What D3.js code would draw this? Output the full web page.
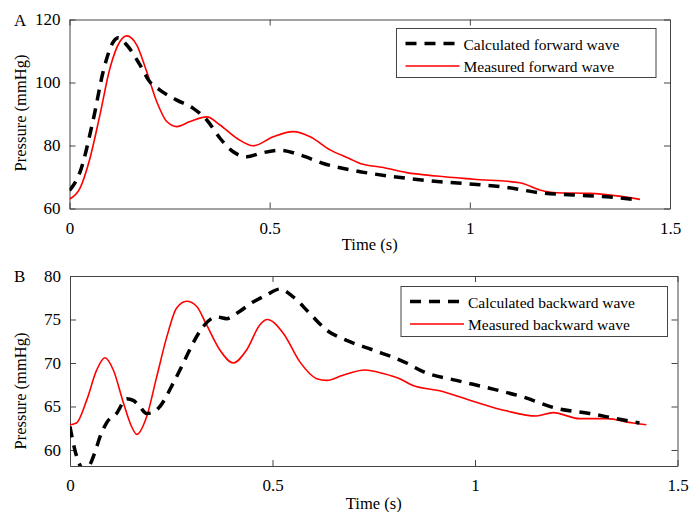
<!DOCTYPE html>
<html>
<head>
<meta charset="utf-8">
<script src="https://cdn.jsdelivr.net/npm/d3@7"></script>
<style>
  body { margin: 0; background: #fff; }
  svg text { font-family: "Liberation Serif", "Times New Roman", serif; fill: #000; }
  .axis path, .axis line { stroke: #444; stroke-width: 1; }
</style>
</head>
<body>
<svg width="689" height="512"></svg>
<script>
/* data */

// panel A - forward waves
var fwdCalcT = [0, 0.026, 0.06, 0.084, 0.11, 0.122, 0.143, 0.176, 0.2, 0.226, 0.268, 0.309, 0.343, 0.376, 0.409, 0.443, 0.476, 0.526, 0.576, 0.634, 0.7, 0.759, 0.842, 0.926, 1.009, 1.092, 1.175, 1.258, 1.342, 1.408];
var fwdCalcP = [65.7, 71.5, 88.6, 103.4, 113, 114.2, 111.9, 105.6, 100.3, 97.6, 94.4, 91.8, 88.1, 82.3, 78, 76.4, 77.5, 78.5, 77, 74.3, 72.3, 71, 69.6, 68.5, 67.7, 66.7, 65, 64.3, 63.7, 62.9];

var fwdMeasT = [0, 0.026, 0.051, 0.076, 0.101, 0.126, 0.143, 0.168, 0.193, 0.218, 0.243, 0.268, 0.301, 0.343, 0.376, 0.418, 0.459, 0.509, 0.559, 0.601, 0.651, 0.7, 0.726, 0.784, 0.842, 0.917, 1.009, 1.125, 1.175, 1.217, 1.3, 1.367, 1.425];
var fwdMeasP = [63, 66.4, 75.9, 89.7, 104.5, 113, 114.8, 111.9, 103.4, 93.9, 87.6, 86, 87.6, 89.1, 86.5, 82.3, 79.9, 82.8, 84.4, 82.8, 78.6, 75.8, 74.3, 73, 71.4, 70.3, 69.3, 68.2, 65.9, 65, 64.8, 64, 62.9];

// panel B - backward waves
var bwdCalcT = [0, 0.012, 0.024, 0.036, 0.048, 0.062, 0.074, 0.09, 0.115, 0.14, 0.156, 0.172, 0.189, 0.205, 0.222, 0.255, 0.28, 0.304, 0.329, 0.362, 0.387, 0.411, 0.452, 0.485, 0.518, 0.551, 0.592, 0.633, 0.683, 0.748, 0.831, 0.872, 0.954, 1.036, 1.118, 1.2, 1.283, 1.349, 1.406];
var bwdCalcP = [62.7, 60.0, 58.3, 57.6, 58.2, 59.8, 61.5, 63.1, 64.2, 65.9, 65.7, 65.0, 64.2, 64.3, 65.0, 67.7, 70.0, 72.3, 74.2, 75.3, 75.1, 75.7, 77.0, 77.8, 78.5, 77.6, 75.7, 73.8, 72.6, 71.5, 70.0, 69.0, 68.0, 67.1, 66.1, 64.8, 64.2, 63.6, 63.1];

var bwdMeasT = [0, 0.016, 0.041, 0.066, 0.086, 0.107, 0.132, 0.152, 0.165, 0.189, 0.214, 0.239, 0.263, 0.288, 0.313, 0.337, 0.37, 0.403, 0.436, 0.469, 0.487, 0.527, 0.568, 0.609, 0.634, 0.674, 0.728, 0.773, 0.814, 0.847, 0.913, 0.995, 1.077, 1.151, 1.193, 1.258, 1.324, 1.39, 1.423];
var bwdMeasP = [62.9, 63.1, 65.7, 69.2, 70.6, 69.2, 65.4, 62.7, 61.8, 63.8, 68.4, 73.0, 76.3, 77.1, 76.5, 74.4, 71.5, 70.0, 71.5, 74.4, 75.0, 73.4, 70.1, 68.2, 68.0, 68.6, 69.2, 68.8, 68.2, 67.4, 66.8, 65.6, 64.5, 63.9, 64.3, 63.6, 63.6, 63.1, 62.9];

// ticks and labels
var xTicks = [0, 0.5, 1, 1.5],
    xTickLabels = ["0", "0.5", "1", "1.5"];
var yTicksA = [60, 80, 100, 120],
    yTicksB = [60, 65, 70, 75, 80];
var legendA = ["Calculated forward wave", "Measured forward wave"],
    legendB = ["Calculated backward wave", "Measured backward wave"];


var svg = d3.select("svg");

function zip(t, p) {
	return t.map(function(d, i) { return {t: d, p: p[i]}; });
}

function panel(o) {
	var x = d3.scaleLinear().domain([0, 1.5]).range([o.left, o.right]),
	    y = d3.scaleLinear().domain(o.ydom).range([o.bottom, o.top]);

	var g = svg.append("g");

	svg.append("defs").append("clipPath")
		.attr("id", o.id)
		.append("rect")
		.attr("x", o.left)
		.attr("y", o.top)
		.attr("width", o.right - o.left)
		.attr("height", o.bottom - o.top);

	var line = d3.line()
		.curve(d3.curveMonotoneX)
		.x(function(d) { return x(d.t); })
		.y(function(d) { return y(d.p); });

	// axes, ticks point inwards like matlab
	g.append("g").attr("class", "axis")
		.attr("transform", "translate(0," + o.bottom + ")")
		.call(d3.axisBottom(x).tickValues(xTicks).tickSize(-6).tickSizeOuter(0).tickPadding(13)
			.tickFormat(function(d, i) { return xTickLabels[i]; }));
	g.append("g").attr("class", "axis")
		.attr("transform", "translate(0," + o.top + ")")
		.call(d3.axisTop(x).tickValues(xTicks).tickSize(-6).tickSizeOuter(0).tickFormat(""));
	g.append("g").attr("class", "axis")
		.attr("transform", "translate(" + o.left + ",0)")
		.call(d3.axisLeft(y).tickValues(o.yticks).tickSize(-6).tickSizeOuter(0).tickPadding(9)
			.tickFormat(d3.format("d")));
	g.append("g").attr("class", "axis")
		.attr("transform", "translate(" + o.right + ",0)")
		.call(d3.axisRight(y).tickValues(o.yticks).tickSize(-6).tickSizeOuter(0).tickFormat(""));

	g.selectAll(".axis text").style("font-size", "17px");

	// lines
	var lines = g.append("g").attr("clip-path", "url(#" + o.id + ")");
	lines.append("path")
		.datum(zip(o.measT, o.measP))
		.attr("fill", "none")
		.attr("stroke", "#ff0000")
		.attr("stroke-width", 1.6)
		.attr("d", line);
	lines.append("path")
		.datum(zip(o.calcT, o.calcP))
		.attr("fill", "none")
		.attr("stroke", "#000")
		.attr("stroke-width", 3.5)
		.attr("stroke-dasharray", "11,8")
		.attr("d", line);

	// labels
	g.append("text")
		.attr("x", (o.left + o.right) / 2)
		.attr("y", o.bottom + o.xlabDy)
		.attr("text-anchor", "middle")
		.style("font-size", "16.5px")
		.text("Time (s)");
	g.append("text")
		.attr("transform", "translate(26," + o.ylabY + ") rotate(-90)")
		.attr("text-anchor", "middle")
		.style("font-size", "16.5px")
		.text("Pressure (mmHg)");
	g.append("text")
		.attr("x", 14)
		.attr("y", o.top + 6)
		.style("font-size", "17px")
		.text(o.tag);

	// legend
	var lg = g.append("g");
	lg.append("rect")
		.attr("x", o.leg[0]).attr("y", o.leg[1])
		.attr("width", o.leg[2]).attr("height", o.leg[3])
		.attr("fill", "#fff")
		.attr("stroke", "#444");
	var rows = [{dash: true}, {dash: false}];
	rows.forEach(function(r, i) {
		var ry = o.leg[1] + 15 + i * 22.5;
		lg.append("line")
			.attr("x1", o.leg[0] + 9).attr("x2", o.leg[0] + 63)
			.attr("y1", ry).attr("y2", ry)
			.attr("stroke", r.dash ? "#000" : "#ff0000")
			.attr("stroke-width", r.dash ? 3.5 : 1.6)
			.attr("stroke-dasharray", r.dash ? "11,8" : null);
		lg.append("text")
			.attr("x", o.leg[0] + 67)
			.attr("y", ry + 6)
			.style("font-size", "15.5px")
			.text(o.legend[i]);
	});
}

panel({
	id: "clipA", tag: "A",
	left: 69.5, right: 670, top: 19.5, bottom: 208.5,
	ydom: [60, 120], yticks: yTicksA, ylabY: 113, xlabDy: 41,
	calcT: fwdCalcT, calcP: fwdCalcP, measT: fwdMeasT, measP: fwdMeasP,
	legend: legendA, leg: [396.5, 28.5, 259.5, 49]
});

panel({
	id: "clipB", tag: "B",
	left: 70, right: 677.5, top: 276, bottom: 466,
	ydom: [58.16, 80], yticks: yTicksB, ylabY: 391, xlabDy: 43,
	calcT: bwdCalcT, calcP: bwdCalcP, measT: bwdMeasT, measP: bwdMeasP,
	legend: legendB, leg: [401, 286.5, 266.5, 50]
});

</script>
</body>
</html>
